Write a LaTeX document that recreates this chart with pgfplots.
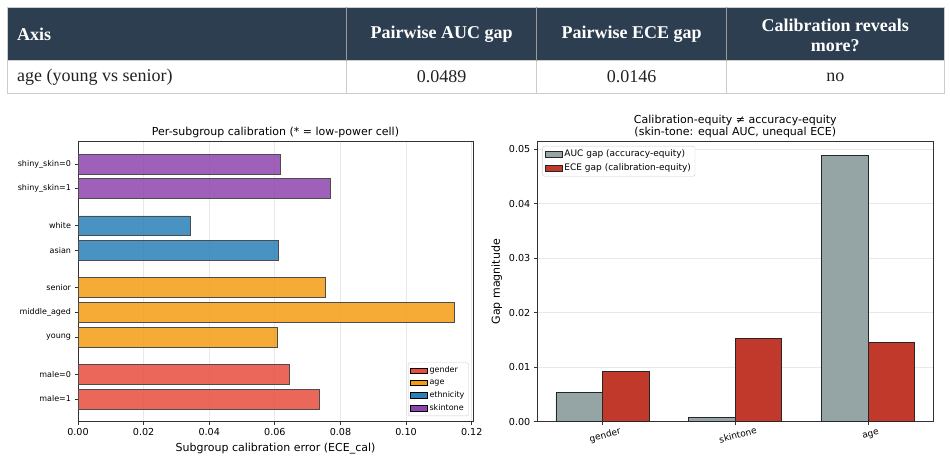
\documentclass[border=0pt]{standalone}
\usepackage{fontspec}
\setmainfont{DejaVu Sans}
\newfontfamily\tabfont{Liberation Serif}
\usepackage{pgfplots}
\pgfplotsset{compat=1.18}
\definecolor{navy}{HTML}{2C3E50}
\definecolor{cgender}{HTML}{E74C3C}
\definecolor{cage}{HTML}{F39C12}
\definecolor{ceth}{HTML}{2980B9}
\definecolor{cskin}{HTML}{8E44AD}
\definecolor{cauc}{HTML}{95A5A6}
\definecolor{cece}{HTML}{C0392B}
\definecolor{gridc}{HTML}{E8E8E8}
\definecolor{tborder}{HTML}{CCCCCC}
\definecolor{ttext}{HTML}{222222}

\begin{document}
\begin{tikzpicture}
\path[use as bounding box] (0bp,0bp) rectangle (950bp,461bp);
% ---------- table ----------
\begin{scope}[x=1bp,y=1bp]
\fill[navy] (7,400.3) rectangle (944,453.7);
\draw[tborder, line width=0.8bp] (7,367.7) rectangle (944,453.7);
\draw[tborder, line width=0.8bp] (7,400.3) -- (944,400.3);
\foreach \x in {346.7,536.7,726.7} {
  \draw[black!40, line width=0.8bp] (\x,400.3) -- (\x,453.7);
  \draw[tborder, line width=0.8bp] (\x,367.7) -- (\x,400.3);
}
\begin{scope}[every node/.style={inner sep=0pt, text=white, font=\tabfont\bfseries\fontsize{18bp}{20bp}\selectfont}]
\node[anchor=west] at (17,427) {Axis};
\node at (441.7,427) {Pairwise AUC gap};
\node at (631.7,427) {Pairwise ECE gap};
\node[align=center] at (835.3,426) {Calibration reveals\\more?};
\end{scope}
\begin{scope}[every node/.style={inner sep=0pt, text=ttext, font=\tabfont\fontsize{18bp}{20bp}\selectfont}]
\node[anchor=west] at (17,384) {age (young vs senior)};
\node at (441.7,384) {0.0489};
\node at (631.7,384) {0.0146};
\node at (835.3,384) {no};
\end{scope}
\end{scope}

% ---------- left chart ----------
\begin{axis}[
  at={(78bp,39.3bp)}, anchor=south west, scale only axis,
  width=395bp, height=280bp,
  xmin=0, xmax=0.1204, ymin=-0.92, ymax=10.4,
  xtick={0,0.02,0.04,0.06,0.08,0.10,0.12},
  scaled x ticks=false,
  /pgf/number format/fixed, /pgf/number format/fixed zerofill, /pgf/number format/precision=2,
  ytick={0,1,2.5,3.5,4.5,6,7,8.5,9.5},
  yticklabels={male=1,male=0,young,middle\_aged,senior,asian,white,shiny\_skin=1,shiny\_skin=0},
  /pgf/number format/assume math mode=true,
  tick pos=left, tick align=outside,
  major tick length=3.5bp,
  every tick/.style={black!80, line width=0.8bp},
  axis line style={black!80, line width=0.8bp},
  xmajorgrids, grid style={gridc, line width=0.8bp},
  x tick label style={font=\fontsize{9.6bp}{11bp}\selectfont},
  y tick label style={font=\fontsize{8bp}{9.5bp}\selectfont},
  title={Per-subgroup calibration (* = low-power cell)},
  title style={font=\fontsize{11bp}{13bp}\selectfont, yshift=-6bp},
  xlabel={Subgroup calibration error (ECE\_cal)},
  xlabel style={font=\fontsize{11bp}{13bp}\selectfont},
  legend style={at={(0.989,0.02)}, anchor=south east,
    font=\fontsize{8bp}{9.5bp}\selectfont, draw=black!20, fill=white,
    rounded corners=2bp, row sep=1.5bp, inner sep=2bp},
  legend cell align=left,
]
\addlegendimage{area legend, sharp corners, fill=cgender, draw=none}\addlegendentry{gender}
\addlegendimage{area legend, sharp corners, fill=cage, draw=none}\addlegendentry{age}
\addlegendimage{area legend, sharp corners, fill=ceth, draw=none}\addlegendentry{ethnicity}
\addlegendimage{area legend, sharp corners, fill=cskin, draw=none}\addlegendentry{skintone}
\addplot[xbar, bar width=0.8, bar shift=0pt, fill=cgender, fill opacity=0.85, draw=black!70, line width=0.6bp, forget plot]
  coordinates {(0.0734,0) (0.0643,1)};
\addplot[xbar, bar width=0.8, bar shift=0pt, fill=cage, fill opacity=0.85, draw=black!70, line width=0.6bp, forget plot]
  coordinates {(0.0607,2.5) (0.1147,3.5) (0.0754,4.5)};
\addplot[xbar, bar width=0.8, bar shift=0pt, fill=ceth, fill opacity=0.85, draw=black!70, line width=0.6bp, forget plot]
  coordinates {(0.0610,6) (0.0341,7)};
\addplot[xbar, bar width=0.8, bar shift=0pt, fill=cskin, fill opacity=0.85, draw=black!70, line width=0.6bp, forget plot]
  coordinates {(0.0769,8.5) (0.0618,9.5)};
\end{axis}

% ---------- right chart ----------
\begin{axis}[
  at={(537.3bp,39.3bp)}, anchor=south west, scale only axis,
  width=396bp, height=280bp,
  xmin=-0.49, xmax=2.49, ymin=0, ymax=0.0514,
  xtick={0,1,2}, xticklabels={gender,skintone,age},
  ytick={0,0.01,0.02,0.03,0.04,0.05},
  scaled y ticks=false,
  /pgf/number format/fixed, /pgf/number format/fixed zerofill, /pgf/number format/precision=2,
  /pgf/number format/assume math mode=true,
  tick pos=left, tick align=outside,
  major tick length=3.5bp,
  every tick/.style={black!80, line width=0.8bp},
  axis line style={black!80, line width=0.8bp},
  ymajorgrids, grid style={gridc, line width=0.8bp},
  x tick label style={rotate=15, anchor=north, yshift=-3bp, font=\fontsize{9bp}{11bp}\selectfont},
  y tick label style={font=\fontsize{9.6bp}{11bp}\selectfont},
  title={Calibration-equity ≠ accuracy-equity\\(skin-tone: equal AUC, unequal ECE)},
  title style={align=center, font=\fontsize{11bp}{12.7bp}\selectfont, yshift=-6bp},
  ylabel={Gap magnitude},
  ylabel style={font=\fontsize{11bp}{13bp}\selectfont},
  legend style={at={(0.013,0.985)}, anchor=north west,
    font=\fontsize{9bp}{10.5bp}\selectfont, draw=black!20, fill=white,
    rounded corners=2bp, row sep=1.5bp, inner sep=2bp},
  legend cell align=left,
]
\addplot[ybar, bar width=0.35, bar shift=-0.175, fill=cauc, draw=black!85, line width=0.8bp, area legend, sharp corners]
  coordinates {(0,0.0053) (1,0.0007) (2,0.0489)};
\addlegendentry{AUC gap (accuracy-equity)}
\addplot[ybar, bar width=0.35, bar shift=0.175, fill=cece, draw=black!85, line width=0.8bp, area legend, sharp corners]
  coordinates {(0,0.0093) (1,0.0152) (2,0.0146)};
\addlegendentry{ECE gap (calibration-equity)}
\end{axis}
\end{tikzpicture}
\end{document}
